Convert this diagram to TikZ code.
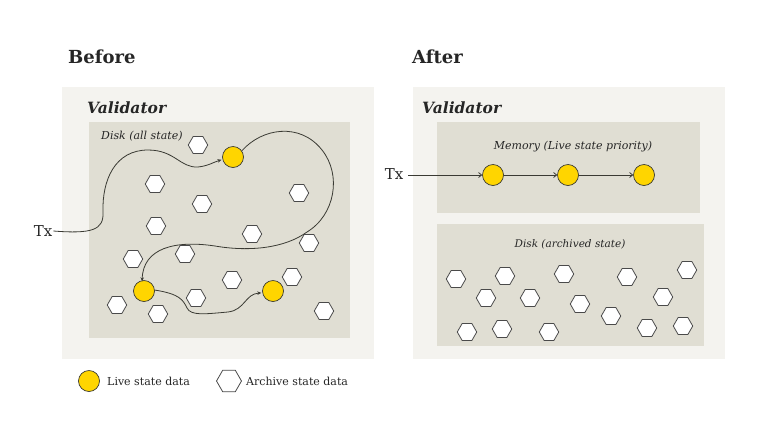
\documentclass[tikz,border=0pt]{standalone}
\usepackage{fontspec}
\setmainfont{DejaVu Serif}
\usetikzlibrary{arrows.meta,shapes.geometric}
\definecolor{panelout}{HTML}{F4F3EF}
\definecolor{panelin}{HTML}{E0DED3}
\definecolor{livey}{HTML}{FFD500}
\definecolor{edge}{HTML}{3A3A33}
\definecolor{hexedge}{HTML}{4A4A4A}

\begin{document}
\begin{tikzpicture}[x=1pt,y=-1pt,
  live/.style={circle,draw=edge,fill=livey,line width=0.7pt,minimum size=21pt,inner sep=0pt},
  arch/.style={regular polygon,regular polygon sides=6,draw=hexedge,fill=white,line width=0.8pt,minimum size=19.5pt,inner sep=0pt},
  flow/.style={draw=edge,line width=0.8pt,-{Stealth[length=4pt,width=3.5pt]}},
  chain/.style={draw=edge,line width=0.8pt,-{Straight Barb[length=3pt,width=5pt]}},
  head/.style={anchor=west,inner sep=0pt,font=\fontsize{18}{20}\selectfont\bfseries},
  valid/.style={anchor=west,inner sep=0pt,font=\fontsize{15.5}{18}\selectfont\bfseries\itshape},
  store/.style={inner sep=0pt,font=\fontsize{11}{13}\selectfont\itshape},
  key/.style={anchor=west,inner sep=0pt,font=\fontsize{11}{13}\selectfont},
  every node/.style={text=black!85}]
\useasboundingbox[fill=white] (0,0) rectangle (768,432);

% panels
\fill[panelout] (62,87) rectangle (374,359);
\fill[panelin] (89,122) rectangle (350,338);
\fill[panelout] (413,87) rectangle (725,359);
\fill[panelin] (437,122) rectangle (700,213);
\fill[panelin] (437,224) rectangle (704,346);

\node[head] (before) at (68,57) {Before};
\node[head] (after) at (412,57) {After};
\node[valid] (val1) at (87,108) {Validator};
\node[valid] (val2) at (422,108) {Validator};
\node[store,anchor=west] (disk1) at (101,136) {Disk (all state)};
\node[store] (mem) at (573,147) {Memory (Live state priority)};
\node[store,font=\fontsize{10.5}{13}\selectfont\itshape] (disk2) at (570,244) {Disk (archived state)};

% before
\foreach \x/\y [count=\i] in {198/145,155/184,299/193,202/204,156/226,252/234,309/243,133/259,185/254,232/280,292/277,117/305,196/298,158/314,324/311}
  \node[arch] (hb\i) at (\x,\y) {};
\node[live] (l1) at (233,157) {};
\node[live] (l2) at (144,291) {};
\node[live] (l3) at (273,291) {};
\node[font=\fontsize{15}{18}\selectfont,inner sep=1pt] (tx1) at (43,231) {Tx};

\draw[flow] (tx1.east) .. controls (92,234) and (104,230) .. (103,212)
  .. controls (102,180) and (115,150) .. (148,150)
  .. controls (175,150) and (180,168) .. (198,167)
  .. controls (208,166) and (214,162) .. ([xshift=-1pt]l1.195);
\draw[flow] (l1.35) .. controls (262,128) and (300,122) .. (322,150)
  .. controls (342,175) and (335,215) .. (307,232)
  .. controls (285,248) and (250,252) .. (215,246)
  .. controls (175,240) and (143,248) .. ([yshift=-1pt]l2.100);
\draw[flow] (l2.5) .. controls (180,294) and (183,300) .. (187,308)
  .. controls (191,316) and (205,314) .. (228,312)
  .. controls (245,310) and (245,294) .. ([xshift=-1pt]l3.190);

% after
\foreach \x/\y [count=\i] in {456/279,505/276,564/274,627/277,687/270,486/298,530/298,580/304,663/297,611/316,467/332,502/329,549/332,647/328,683/326}
  \node[arch] (ha\i) at (\x,\y) {};
\node[live] (m1) at (493,175) {};
\node[live] (m2) at (568,175) {};
\node[live] (m3) at (644,175) {};
\node[font=\fontsize{15}{18}\selectfont,inner sep=1pt] (tx2) at (394,174) {Tx};
\draw[chain] (tx2.east) ++(4,1) coordinate (txs) (txs) -- (m1);
\draw[chain] (m1) -- (m2);
\draw[chain] (m2) -- (m3);

% legend
\node[live] (keylive) at (89,381) {};
\node[key] (keylivet) at (107,381) {Live state data};
\node[arch,minimum size=25pt] (keyarch) at (229,381) {};
\node[key] (keyarcht) at (246,381) {Archive state data};
\end{tikzpicture}
\end{document}
